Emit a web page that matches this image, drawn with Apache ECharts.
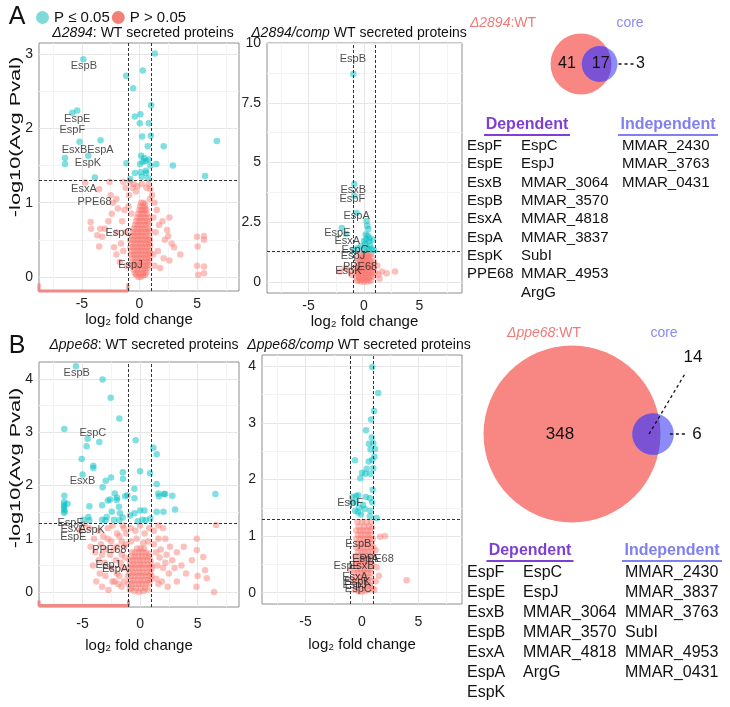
<!DOCTYPE html>
<html><head><meta charset="utf-8">
<script src="https://cdn.jsdelivr.net/npm/echarts@6/dist/echarts.min.js"></script>
<style>html,body{margin:0;padding:0;background:#fff}#c{width:730px;height:707px}</style>
</head><body><div id="c"></div>
<script>
const FONT = '"Liberation Sans", Arial, Helvetica, sans-serif';

// ---------- Panel A1: Δ2894 : WT ----------
const a1Sig = [[-4.87,2.93],[1.33,3.01],[0.29,2.78],[-1.15,2.71],[-0.55,2.54],[1.01,2.31],[-5.83,2.21],[-5.4,2.24],[-0.4,2.16],[0.08,2.19],[0.03,2.07],[0.81,2.07],[0.23,1.89],[0.99,1.9],[-5.2,1.82],[-3.38,1.84],[6.72,1.83],[2.1,1.76],[0.72,1.76],[-6.46,1.6],[-6.46,1.52],[-4.45,1.63],[0.15,1.63],[0.4,1.6],[0.55,1.56],[0.8,1.58],[0.3,1.55],[0.05,1.52],[0.95,1.5],[-1.13,1.53],[1.47,1.52],[2.9,1.5],[5.7,1.36],[-3.87,1.34],[-0.4,1.4],[0.1,1.41],[0.55,1.43],[0.58,1.4],[0.75,1.33],[-0.8,1.32],[0.2,1.35]];
const a1NS = [[-0.1,0.0],[0.1,0.0],[0.3,0.02],[-0.3,0.03],[0.5,0.03],[-0.5,0.1],[-0.25,0.1],[0,0.1],[0.25,0.1],[0.5,0.1],[0.7,0.12],[-0.6,0.2],[-0.35,0.2],[-0.1,0.2],[0.15,0.2],[0.4,0.2],[0.65,0.2],[0.85,0.22],[-0.75,0.3],[-0.5,0.3],[-0.25,0.3],[0,0.3],[0.25,0.3],[0.5,0.3],[0.75,0.3],[0.95,0.32],[-0.8,0.4],[-0.55,0.4],[-0.3,0.4],[-0.05,0.4],[0.2,0.4],[0.45,0.4],[0.7,0.4],[0.9,0.42],[-0.8,0.5],[-0.55,0.5],[-0.3,0.5],[-0.05,0.5],[0.2,0.5],[0.45,0.5],[0.7,0.5],[0.9,0.5],[-0.6,0.6],[-0.35,0.6],[-0.1,0.6],[0.15,0.6],[0.4,0.6],[0.65,0.6],[0.9,0.62],[-0.4,0.7],[-0.15,0.7],[0.1,0.7],[0.35,0.7],[0.6,0.7],[0.85,0.72],[-0.2,0.8],[0.05,0.8],[0.3,0.8],[0.55,0.8],[0.8,0.8],[0.0,0.9],[0.2,0.9],[0.4,0.9],[0.6,0.9],[0.15,1.0],[0.35,1.0],[0.5,0.98],[-0.9,1.1],[-0.6,1.2],[-0.3,1.15],[0.6,1.2],[0.8,1.25],[-0.95,0.95],[1.1,1.1],[1.3,1.0],[0.9,1.05],[-0.7,0.85],[1.2,0.8],[1.5,0.9],[1.7,0.7],[1.4,0.6],[2.0,0.75],[2.4,0.63],[2.6,0.8],[2.2,0.5],[2.8,0.45],[2.5,0.55],[3.0,0.4],[3.55,0.3],[2.1,0.25],[2.6,0.22],[1.6,0.35],[1.2,0.3],[1.3,0.15],[1.8,0.12],[5.0,0.54],[5.6,0.55],[5.6,0.5],[5.05,0.41],[5.6,0.14],[5.1,0.03],[5.6,0.05],[5.0,0.15],[-2.6,1.28],[-1.41,1.28],[-3.5,1.18],[-2.5,1.1],[-2.3,1.0],[-2.0,1.05],[-1.88,0.92],[-4.24,0.74],[-3.23,0.54],[-3.5,0.41],[-3.0,0.65],[-2.7,0.75],[-2.4,0.85],[-2.0,0.6],[-1.6,0.45],[-1.4,0.35],[-1.2,0.6],[-1.5,0.75],[-1.3,0.9],[-2.0,0.3],[-1.7,0.2],[-1.1,0.15],[-4.2,0.65],[-3.4,0.65],[-3.66,0.56],[-1.2,1.2],[-0.85,1.28],[-0.5,1.25],[-0.2,1.22],[0.2,1.25],[0.95,1.18],[-4.7,1.27],[-2.2,0.4]];
const a1Core = [[-0.4,0.05],[-0.15,0.05],[0.1,0.05],[0.35,0.05],[0.6,0.06],[-0.65,0.15],[-0.4,0.15],[-0.15,0.15],[0.1,0.15],[0.35,0.15],[0.6,0.15],[0.8,0.16],[-0.65,0.25],[-0.4,0.25],[-0.15,0.25],[0.1,0.25],[0.35,0.25],[0.6,0.25],[0.85,0.25],[-0.7,0.35],[-0.4,0.35],[-0.15,0.35],[0.1,0.35],[0.35,0.35],[0.6,0.35],[0.85,0.35],[-0.7,0.45],[-0.4,0.45],[-0.15,0.45],[0.1,0.45],[0.35,0.45],[0.6,0.45],[0.85,0.45],[-0.65,0.55],[-0.4,0.55],[-0.15,0.55],[0.1,0.55],[0.35,0.55],[0.6,0.55],[0.85,0.55],[-0.5,0.65],[-0.25,0.65],[0.0,0.65],[0.25,0.65],[0.5,0.65],[0.75,0.65],[-0.3,0.75],[-0.05,0.75],[0.2,0.75],[0.45,0.75],[0.7,0.75],[-0.1,0.85],[0.15,0.85],[0.4,0.85],[0.65,0.85],[0.05,0.95],[0.3,0.95],[0.5,0.93]];
const a1Labels = [[-4.82,2.84,'EspB'],[-5.4,2.13,'EspE'],[-5.83,1.98,'EspF'],[-5.63,1.71,'EsxB'],[-3.38,1.71,'EspA'],[-4.47,1.53,'EspK'],[-4.82,1.19,'EsxA'],[-3.9,1.01,'PPE68'],[-1.79,0.59,'EspC'],[-0.78,0.16,'EspJ']];
const a1Bracket = [[-8.72,-0.09],[-8.72,-0.19],[-1,-0.19],[-1,-0.09]];

// ---------- Panel A2: Δ2894/comp : WT ----------
const a2Sig = [[-0.96,8.7],[-0.87,4.11],[-0.87,3.61],[-0.66,2.89],[0.24,2.56],[0.3,2.36],[0.39,2.23],[-2.0,2.27],[-1.62,2.03],[0.15,2.0],[0.35,1.95],[0.5,1.85],[0.2,1.8],[0.0,1.72],[0.45,1.7],[0.8,1.78],[0.1,1.6],[0.55,1.55],[-0.3,1.5],[0.25,1.45],[0.7,1.4],[0.0,1.35],[0.45,1.36],[-0.6,1.42],[0.9,1.33],[-0.96,1.33]];
const a2NS = [[-0.6,0.05],[-0.3,0.03],[0,0.02],[0.3,0.03],[0.6,0.05],[-0.7,0.2],[-0.4,0.2],[-0.1,0.2],[0.2,0.2],[0.5,0.2],[0.8,0.22],[-0.75,0.4],[-0.45,0.4],[-0.15,0.4],[0.15,0.4],[0.45,0.4],[0.75,0.4],[1.0,0.42],[-0.7,0.6],[-0.4,0.6],[-0.1,0.6],[0.2,0.6],[0.5,0.6],[0.8,0.62],[-0.6,0.8],[-0.3,0.8],[0,0.8],[0.3,0.8],[0.6,0.8],[0.9,0.85],[-0.5,1.0],[-0.2,1.0],[0.1,1.0],[0.4,1.0],[0.7,1.05],[-0.4,1.2],[0.0,1.2],[0.3,1.22],[0.6,1.18],[1.6,0.45],[2.04,0.38],[2.8,0.45],[1.3,0.32],[-2.16,0.45],[-1.7,0.58],[-1.3,0.5],[1.2,0.7],[-1.1,0.3],[1.4,0.15]];
const a2Core = [[-0.45,0.1],[-0.15,0.1],[0.15,0.1],[0.45,0.1],[-0.55,0.3],[-0.25,0.3],[0.05,0.3],[0.35,0.3],[0.65,0.3],[-0.55,0.5],[-0.25,0.5],[0.05,0.5],[0.35,0.5],[0.65,0.5],[-0.45,0.7],[-0.15,0.7],[0.15,0.7],[0.45,0.7],[0.7,0.7],[-0.35,0.9],[-0.05,0.9],[0.25,0.9],[0.55,0.9],[-0.25,1.1],[0.15,1.1],[0.45,1.1]];
const a2Labels = [[-1.0,9.35,'EspB'],[-0.96,3.87,'EsxB'],[-1.05,3.48,'EspF'],[-0.66,2.78,'EspA'],[-2.4,2.06,'EspE'],[-1.5,1.74,'EsxA'],[-0.81,1.33,'EspC'],[-1.0,1.08,'EspJ'],[-0.36,0.64,'PPE68'],[-1.41,0.49,'EspK']];

// ---------- Panel B1: Δppe68 : WT ----------
const b1Sig = [[-5.57,4.24],[-3.25,3.99],[-2.55,3.65],[-1.8,3.26],[-6.58,3.06],[-4.55,2.88],[-3.54,2.82],[-4.64,2.74],[-0.38,2.85],[1.16,2.71],[1.45,2.59],[-5.07,2.5],[-4.06,2.37],[-4.06,2.33],[-4.99,2.21],[-1.5,2.25],[-1.48,2.13],[0.0,2.27],[0.87,2.23],[-2.98,2.09],[-2.52,2.15],[-3.25,1.97],[-0.49,1.94],[1.45,2.03],[-6.58,1.81],[1.65,1.8],[2.09,1.84],[2.81,1.81],[6.55,1.84],[-2.2,1.85],[-2.0,1.77],[-2.8,1.72],[-1.3,1.8],[-6.6,1.69],[-6.6,1.64],[-6.6,1.6],[-6.6,1.56],[-6.55,1.52],[-6.6,1.49],[-6.3,1.66],[-4.4,1.61],[-3.3,1.63],[-2.6,1.74],[-2.03,1.73],[-1.83,1.6],[-1.1,1.82],[-0.49,1.76],[-1.74,1.48],[-2.46,1.51],[-2.9,1.41],[-2.26,1.36],[-1.8,1.35],[-1.5,1.4],[-0.87,1.44],[-0.49,1.48],[0,1.53],[0.38,1.53],[1.45,1.51],[2.03,1.51],[3.04,1.55],[1.59,1.85],[2.17,1.84],[-4.5,1.41],[-4.93,1.36],[-4.4,1.35],[-3.3,1.36],[-3.0,1.35],[0.5,1.35],[0.9,1.38],[-0.2,1.33],[0.2,1.36]];
const b1NS = [[-0.9,0.05],[-0.5,0.02],[-0.1,0.0],[0.3,0.02],[0.7,0.05],[-1.0,0.15],[-0.7,0.15],[-0.4,0.15],[-0.1,0.15],[0.2,0.15],[0.5,0.15],[0.8,0.17],[-1.05,0.3],[-0.75,0.3],[-0.45,0.3],[-0.15,0.3],[0.15,0.3],[0.45,0.3],[0.75,0.3],[1.0,0.3],[-1.0,0.45],[-0.7,0.45],[-0.4,0.45],[-0.1,0.45],[0.2,0.45],[0.5,0.45],[0.8,0.45],[1.05,0.45],[-0.9,0.6],[-0.6,0.6],[-0.3,0.6],[0.0,0.6],[0.3,0.6],[0.6,0.6],[0.9,0.6],[-0.7,0.75],[-0.4,0.75],[-0.1,0.75],[0.2,0.75],[0.5,0.75],[0.8,0.72],[-1.5,1.25],[-1.2,1.1],[-0.8,1.2],[-0.4,1.15],[0.0,1.25],[0.4,1.1],[0.8,1.2],[1.2,1.15],[1.6,1.25],[2.0,1.2],[-1.6,0.95],[-1.2,0.9],[-0.8,0.95],[-0.3,1.0],[0.3,0.92],[0.7,0.95],[1.2,0.9],[1.6,1.0],[2.2,1.0],[2.6,0.85],[-2.0,1.1],[-2.4,1.25],[-2.8,1.2],[-3.2,1.05],[-3.6,1.15],[-4.0,1.0],[-4.4,1.2],[-4.8,1.28],[-5.2,1.15],[-2.0,0.85],[-2.5,0.95],[-3.0,0.8],[-3.4,0.9],[-3.9,0.75],[-4.3,0.85],[-1.6,0.7],[-2.1,0.6],[-2.6,0.7],[-3.1,0.55],[-3.6,0.6],[-4.1,0.5],[-1.5,0.45],[-2.0,0.35],[-2.5,0.45],[-3.0,0.3],[-3.5,0.35],[-1.4,0.2],[-1.9,0.15],[-2.4,0.2],[-2.75,0.04],[-3.3,0.1],[-3.8,0.2],[1.4,0.75],[1.8,0.8],[2.3,0.7],[2.8,0.6],[3.2,0.75],[1.5,0.5],[2.0,0.45],[2.5,0.35],[3.0,0.45],[3.6,0.5],[1.4,0.25],[1.9,0.2],[2.4,0.1],[3.2,0.2],[4.0,0.35],[4.5,0.6],[3.8,0.85],[4.93,1.0],[4.93,0.79],[5.5,0.66],[5.65,0.41],[5.8,0.26],[6.43,0.0],[6.6,1.26],[5.0,0.3],[4.9,0.1],[-1.8,1.05],[-1.4,1.2],[-1.7,0.55],[-1.3,0.65],[-1.8,0.3],[-2.3,0.8],[-2.8,1.0],[-3.3,0.7],[-2.2,0.2],[-1.6,0.1],[1.6,0.15],[2.2,0.55],[1.7,0.65],[-1.4,0.85]];
const b1Core = [[-0.75,0.07],[-0.35,0.07],[0.05,0.07],[0.45,0.07],[-0.85,0.22],[-0.55,0.22],[-0.25,0.22],[0.05,0.22],[0.35,0.22],[0.65,0.22],[0.9,0.23],[-0.9,0.37],[-0.6,0.37],[-0.3,0.37],[0.0,0.37],[0.3,0.37],[0.6,0.37],[0.9,0.37],[-0.85,0.52],[-0.55,0.52],[-0.25,0.52],[0.05,0.52],[0.35,0.52],[0.65,0.52],[0.95,0.52],[-0.75,0.67],[-0.45,0.67],[-0.15,0.67],[0.15,0.67],[0.45,0.67],[0.75,0.67],[-0.25,0.82],[0.05,0.82],[0.35,0.82]];
const b1Labels = [[-5.5,4.12,'EspB'],[-4.1,2.99,'EspC'],[-5.0,2.09,'EsxB'],[-6.06,1.29,'EspF'],[-5.8,1.18,'EsxA'],[-4.2,1.16,'EspK'],[-5.8,1.04,'EspE'],[-2.67,0.79,'PPE68'],[-2.8,0.51,'EspJ'],[-2.17,0.44,'EspA']];
const b1Bracket = [[-8.78,-0.16],[-8.78,-0.25],[-1,-0.25],[-1,-0.16]];

// ---------- Panel B2: Δppe68/comp : WT ----------
const b2Sig = [[0.91,3.99],[1.44,3.53],[1.06,3.21],[0.8,3.06],[0.35,2.87],[0.86,2.74],[1.0,2.64],[0.62,2.63],[1.15,2.54],[0.75,2.53],[1.09,2.4],[0.9,2.35],[0.6,2.32],[1.0,2.2],[-0.62,2.34],[0.41,2.19],[0.0,2.12],[0.3,2.1],[0.74,2.1],[-0.15,2.02],[0.94,1.82],[0.9,1.6],[-0.86,1.69],[-0.53,1.71],[-0.33,1.72],[0.35,1.69],[0.7,1.67],[-0.9,1.6],[-0.5,1.6],[0.1,1.55],[-0.25,1.5],[0.25,1.48],[-0.1,1.38],[0.75,1.45],[0.7,1.35],[1.3,1.32],[-0.6,1.45],[-0.35,1.42]];
const b2NS = [[-0.6,0.05],[-0.3,0.02],[0,0.02],[0.3,0.03],[0.6,0.05],[0.9,0.08],[-0.7,0.2],[-0.4,0.2],[-0.1,0.2],[0.2,0.2],[0.5,0.2],[0.8,0.2],[-0.7,0.35],[-0.4,0.35],[-0.1,0.35],[0.2,0.35],[0.5,0.35],[0.8,0.35],[-0.6,0.5],[-0.3,0.5],[0,0.5],[0.3,0.5],[0.6,0.5],[0.9,0.5],[-0.6,0.65],[-0.3,0.65],[0,0.65],[0.3,0.65],[0.6,0.65],[0.9,0.65],[-0.5,0.8],[-0.2,0.8],[0.1,0.8],[0.4,0.8],[0.7,0.8],[1.0,0.8],[-0.5,0.95],[-0.2,0.95],[0.1,0.95],[0.4,0.95],[0.7,0.95],[0.95,0.95],[-0.5,1.1],[-0.2,1.1],[0.1,1.1],[0.4,1.1],[0.7,1.1],[0.9,1.15],[-0.4,1.25],[0.0,1.25],[0.4,1.25],[0.8,1.25],[1.6,0.99],[2.03,1.0],[1.2,0.75],[1.3,0.45],[1.5,0.3],[1.2,0.2],[3.95,0.22],[-0.91,0.23],[-1.0,0.4],[1.1,0.05]];
const b2Core = [[-0.45,0.12],[-0.15,0.12],[0.15,0.12],[0.45,0.12],[0.7,0.12],[-0.55,0.27],[-0.25,0.27],[0.05,0.27],[0.35,0.27],[0.65,0.27],[-0.45,0.42],[-0.15,0.42],[0.15,0.42],[0.45,0.42],[0.75,0.42],[-0.45,0.57],[-0.15,0.57],[0.15,0.57],[0.45,0.57],[0.75,0.57],[-0.35,0.72],[-0.05,0.72],[0.25,0.72],[0.55,0.72],[0.85,0.72],[-0.35,0.87],[-0.05,0.87],[0.25,0.87],[0.55,0.87],[0.85,0.87],[-0.35,1.02],[-0.05,1.02],[0.25,1.02],[0.55,1.02],[0.8,1.02],[-0.3,1.17],[0.2,1.17],[0.6,1.17]];
const b2Labels = [[-1.06,1.58,'EspF'],[-0.33,0.86,'EspB'],[0.3,0.6,'EspA'],[1.3,0.6,'PPE68'],[-1.35,0.48,'EspE'],[-0.03,0.48,'EsxB'],[-0.62,0.28,'EsxA'],[-0.4,0.19,'EspK'],[-0.65,0.14,'EspJ'],[-0.33,0.07,'EspC']];

// thresholds
const fcThreshold = 1;
const pThreshold = 1.3; // -log10(0.05)

// tick values
const xGridVals = [-7.5,-5,-2.5,0,2.5,5,7.5];
const xTickVals = [-5,0,5];

// ---------- Venn counts ----------
const vennA = {left: 41, both: 17, right: 3};
const vennB = {left: 348, both: 14, right: 6};

// ---------- Tables ----------
const depA1 = ['EspF','EspE','EsxB','EspB','EsxA','EspA','EspK','PPE68'];
const depA2 = ['EspC','EspJ','MMAR_3064','MMAR_3570','MMAR_4818','MMAR_3837','SubI','MMAR_4953','ArgG'];
const indepA = ['MMAR_2430','MMAR_3763','MMAR_0431'];
const depB1 = ['EspF','EspE','EsxB','EspB','EsxA','EspA','EspK'];
const depB2 = ['EspC','EspJ','MMAR_3064','MMAR_3570','MMAR_4818','ArgG'];
const indepB = ['MMAR_2430','MMAR_3837','MMAR_3763','SubI','MMAR_4953','MMAR_0431'];

const SIG = 'P ≤ 0.05', NS = 'P > 0.05';
const CYAN = '#00BFC4', RED = '#F8766D';

const panels = [
  {grid:{left:39,top:43,width:200,height:248}, xMin:-8.72, xMax:8.64, yMin:-0.19, yMax:3.15, yTicks:[0,1,2,3], yGrid:[0,0.5,1,1.5,2,2.5,3], sig:a1Sig, ns:a1NS.concat(a1Core), labels:a1Labels, bracket:a1Bracket, lm:6, ng:19},
  {grid:{left:267,top:43,width:195,height:250}, xMin:-8.74, xMax:8.83, yMin:-0.45, yMax:10, yTicks:[0,2.5,5,7.5,10], yGrid:[0,1.25,2.5,3.75,5,6.25,7.5,8.75,10], sig:a2Sig, ns:a2NS.concat(a2Core), labels:a2Labels, bracket:null, lm:6, ng:19},
  {grid:{left:39,top:362,width:200,height:245}, xMin:-8.78, xMax:8.6, yMin:-0.28, yMax:4.32, yTicks:[0,1,2,3,4], yGrid:[0,0.5,1,1.5,2,2.5,3,3.5,4], sig:b1Sig, ns:b1NS.concat(b1Core), labels:b1Labels, bracket:b1Bracket, lm:10, ng:31},
  {grid:{left:262,top:355,width:200,height:249}, xMin:-8.85, xMax:8.85, yMin:-0.2, yMax:4.2, yTicks:[0,1,2,3,4], yGrid:[0,0.5,1,1.5,2,2.5,3,3.5,4], sig:b2Sig, ns:b2NS.concat(b2Core), labels:b2Labels, bracket:null, lm:11, ng:33}
];

const grids = [], xAxes = [], yAxes = [], series = [];
panels.forEach((p, i) => {
  grids.push(Object.assign({show:true, borderColor:'#8E8E8E', borderWidth:1, backgroundColor:'#fff'}, p.grid));
  xAxes.push({type:'value', gridIndex:i, min:p.xMin, max:p.xMax,
    axisLine:{show:false}, axisTick:{show:false, customValues:xGridVals},
    axisLabel:{customValues:xTickVals, margin:p.lm, fontSize:14, color:'#222', fontFamily:FONT},
    splitLine:{show:true, lineStyle:{color:['#F3F3F3','#E6E6E6'], width:1}},
    name:'log₂ fold change', nameLocation:'middle', nameGap:p.ng,
    nameTextStyle:{fontSize:15, color:'#111', fontFamily:FONT}});
  const yCols = p.yGrid.map(v => p.yTicks.indexOf(v) >= 0 ? '#E6E6E6' : '#F3F3F3');
  yAxes.push({type:'value', gridIndex:i, min:p.yMin, max:p.yMax,
    axisLine:{show:false}, axisTick:{show:false, customValues:p.yGrid},
    axisLabel:{customValues:p.yTicks, margin:6, fontSize:14, color:'#222', fontFamily:FONT},
    splitLine:{show:true, lineStyle:{color:yCols, width:1}}});
  if (p.bracket) {
    series.push({type:'line', xAxisIndex:i, yAxisIndex:i, data:p.bracket, symbol:'none', clip:false, silent:true,
      lineStyle:{color:'#F08A84', width:3}, z:1});
  }
  series.push({name:NS, type:'scatter', xAxisIndex:i, yAxisIndex:i, data:p.ns, symbolSize:6.5,
    itemStyle:{color:RED, opacity:0.45}, z:2,
    markLine:{silent:true, symbol:'none', label:{show:false}, animation:false,
      lineStyle:{type:[3,2], color:'#333', width:1},
      data:[{xAxis:-fcThreshold},{xAxis:fcThreshold},{yAxis:pThreshold}]}});
  series.push({name:SIG, type:'scatter', xAxisIndex:i, yAxisIndex:i, data:p.sig, symbolSize:6.5,
    itemStyle:{color:CYAN, opacity:0.5}, z:3});
  series.push({type:'scatter', xAxisIndex:i, yAxisIndex:i, silent:true, symbolSize:1,
    itemStyle:{color:'rgba(0,0,0,0)'}, z:4,
    data:p.labels.map(l => ({value:[l[0], l[1]], name:l[2]})),
    label:{show:true, position:'inside', formatter:'{b}', fontSize:11, color:'#222', fontFamily:FONT}});
});

// ---------- Venn ----------
function lensArea(d, r1, r2) {
  if (d >= r1 + r2) return 0;
  if (d <= Math.abs(r1 - r2)) return Math.PI * Math.min(r1, r2) ** 2;
  const a1 = r1*r1*Math.acos((d*d + r1*r1 - r2*r2)/(2*d*r1));
  const a2 = r2*r2*Math.acos((d*d + r2*r2 - r1*r1)/(2*d*r2));
  const t = 0.5*Math.sqrt((-d+r1+r2)*(d+r1-r2)*(d-r1+r2)*(d+r1+r2));
  return a1 + a2 - t;
}
function solveD(r1, r2, target) {
  let lo = Math.abs(r1 - r2) + 1e-6, hi = r1 + r2;
  for (let i = 0; i < 80; i++) {
    const mid = (lo + hi) / 2;
    if (lensArea(mid, r1, r2) > target) lo = mid; else hi = mid;
  }
  return (lo + hi) / 2;
}
function vennSeries(axisIdx, counts, k, center, style) {
  return {type:'custom', coordinateSystem:'cartesian2d', xAxisIndex:axisIdx, yAxisIndex:axisIdx,
    clip:false, silent:true, data:[center],
    renderItem(params, api) {
      const c = api.coord([api.value(0), api.value(1)]);
      const r1 = k*Math.sqrt(counts.left + counts.both);
      const r2 = k*Math.sqrt(counts.both + counts.right);
      const d = solveD(r1, r2, Math.PI*k*k*counts.both);
      const x1 = c[0], y = c[1], x2 = x1 + d;
      const a = (d*d + r1*r1 - r2*r2)/(2*d);
      const h = Math.sqrt(Math.max(0, r1*r1 - a*a));
      const px = x1 + a;
      const large = a > d ? 1 : 0;
      const lens = `M${px} ${y-h}A${r2} ${r2} 0 ${large} 0 ${px} ${y+h}A${r1} ${r1} 0 0 0 ${px} ${y-h}Z`;
      const numFont = style.numSize + 'px ' + FONT;
      const txt = (t, x, yy) => ({type:'text', style:{text:t, x:x, y:yy, fill:'#111', font:numFont, align:'center', verticalAlign:'middle'}});
      const dash = (xa, ya, xb, yb) => ({type:'line', shape:{x1:xa, y1:ya, x2:xb, y2:yb}, style:{stroke:'#111', lineWidth:1.3, lineDash:[3,3]}});
      const children = [
        {type:'circle', shape:{cx:x1, cy:y, r:r1}, style:{fill:'#F88683'}},
        {type:'circle', shape:{cx:x2, cy:y, r:r2}, style:{fill:'#8C8CF8'}},
        {type:'path', shape:{pathData:lens}, style:{fill:'#7B52D4'}},
        txt(String(counts.left), x1 + style.leftOff, y),
        txt(String(counts.right), x2 + r2 + style.rightGap, y),
        dash(x2 + r2 + style.rdStart, y, x2 + r2 + style.rdEnd, y)
      ];
      if (style.bothInside) {
        children.push(txt(String(counts.both), x2 + 1, y));
      } else {
        children.push(dash(x2 - 4, y, x2 + 33, y - 62));
        children.push(txt(String(counts.both), x2 + 40, y - 77));
      }
      return {type:'group', children};
    }};
}
grids.push({left:460, top:0, width:270, height:130, show:false});
xAxes.push({type:'value', gridIndex:4, min:0, max:270, show:false});
yAxes.push({type:'value', gridIndex:4, min:0, max:130, inverse:true, show:false});
series.push(vennSeries(4, vennA, 4.0, [121, 64], {numSize:16, leftOff:-14, rightGap:23, rdStart:1, rdEnd:16, bothInside:true}));
grids.push({left:460, top:320, width:270, height:230, show:false});
xAxes.push({type:'value', gridIndex:5, min:0, max:270, show:false});
yAxes.push({type:'value', gridIndex:5, min:0, max:230, inverse:true, show:false});
series.push(vennSeries(5, vennB, 4.65, [112, 114], {numSize:17, leftOff:-12, rightGap:23, rdStart:-4, rdEnd:12, bothInside:false}));

// ---------- graphic texts ----------
const graphic = [];
function rtext(x, y, parts, size, opts) {
  const rich = {};
  let s = '';
  parts.forEach((p, i) => {
    const key = 't' + i;
    rich[key] = {fontSize:size, fontFamily:FONT, fontStyle:p[1] ? 'italic' : 'normal', fill:(opts && opts.fill) || '#111', fontWeight:(opts && opts.bold) ? 'bold' : 'normal'};
    s += '{' + key + '|' + p[0] + '}';
  });
  graphic.push({type:'text', x:x, y:y, silent:true, style:{text:s, rich:rich, fontSize:size, fontFamily:FONT, fill:'#111', align:(opts && opts.align) || 'center', verticalAlign:'middle'}});
}
rtext(17, 17, [['A', false]], 25);
rtext(17, 346, [['B', false]], 25);
rtext(143, 33, [['Δ2894', true], [': WT secreted proteins', false]], 14);
rtext(359, 33, [['Δ2894/comp', true], [' WT secreted proteins', false]], 14);
rtext(144, 345, [['Δppe68', true], [': WT secreted proteins', false]], 14);
rtext(359, 345, [['Δppe68/comp', true], [' WT secreted proteins', false]], 14);
// y axis titles (stretched like the original)
[[16, 137], [16, 468]].forEach(pos => {
  graphic.push({type:'text', x:pos[0], y:pos[1], rotation:Math.PI/2, scaleX:1.45, scaleY:1, silent:true,
    style:{text:'-log10(Avg Pval)', fontSize:15, fontFamily:FONT, fill:'#111', align:'center', verticalAlign:'middle'}});
});
// Venn set labels
rtext(503, 23, [['Δ2894', true], [':WT', false]], 14, {fill:'#F07A78'});
rtext(630, 23, [['core', false]], 14, {fill:'#8A8AF2'});
rtext(544, 333, [['Δppe68', true], [':WT', false]], 14, {fill:'#F07A78'});
rtext(664, 333, [['core', false]], 14, {fill:'#8A8AF2'});

// tables
function header(x, y, text, color, w) {
  graphic.push({type:'text', x:x, y:y, silent:true, style:{text:text, fontSize:16, fontWeight:'bold', fontFamily:FONT, fill:color, align:'center', verticalAlign:'middle'}});
  graphic.push({type:'line', silent:true, shape:{x1:x - w/2, y1:y + 10, x2:x + w/2, y2:y + 10}, style:{stroke:color, lineWidth:2}});
}
function column(items, x, y0, step, size) {
  items.forEach((t, i) => {
    graphic.push({type:'text', x:x, y:y0 + i*step, silent:true, style:{text:t, fontSize:size, fontFamily:FONT, fill:'#111', align:'left', verticalAlign:'middle'}});
  });
}
header(527, 125, 'Dependent', '#7E3FD6', 86);
header(668, 125, 'Independent', '#7F7FF2', 100);
column(depA1, 467, 146, 18.3, 15);
column(depA2, 521, 146, 18.3, 15);
column(indepA, 622, 146, 18.3, 15);
header(530, 551, 'Dependent', '#7E3FD6', 87);
header(672, 551, 'Independent', '#7F7FF2', 100);
column(depB1, 467, 573, 20, 16);
column(depB2, 523, 573, 20, 16);
column(indepB, 625, 573, 20, 16);

const chart = echarts.init(document.getElementById('c'), null, {renderer:'canvas'});
chart.setOption({
  animation:false,
  backgroundColor:'#fff',
  legend:{left:31, top:5, itemWidth:13, itemHeight:13, itemGap:2, icon:'circle',
    textStyle:{fontSize:15, color:'#111', fontFamily:FONT},
    data:[{name:SIG, itemStyle:{color:'#7FDADA', opacity:1}}, {name:NS, itemStyle:{color:'#F47F76', opacity:1}}]},
  grid:grids, xAxis:xAxes, yAxis:yAxes, series:series, graphic:graphic
});
</script>
</body></html>
